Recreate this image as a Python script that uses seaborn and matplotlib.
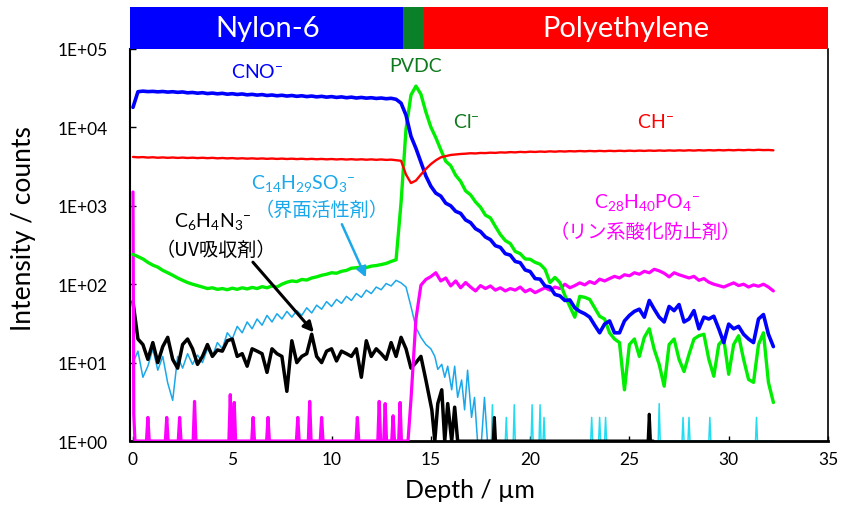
import numpy as np
import matplotlib
matplotlib.use("Agg")
import matplotlib.pyplot as plt
import seaborn as sns
from matplotlib.ticker import FixedLocator, FuncFormatter, NullLocator

# ---------------------------------------------------------------------------
# ToF-SIMS depth profile of a Nylon-6 / PVDC / Polyethylene laminate
# ---------------------------------------------------------------------------

# sputter depth of each sampled cycle, µm (0.25 µm steps)
depth = np.round(np.arange(130) * 0.25, 2)

# CNO- (Nylon-6 marker)
cno = [18000, 28500, 29000, 28600, 28800, 28400, 28700, 28200, 28500, 28000,
       28300, 27600, 27900, 27300, 27700, 27000, 27400, 26800, 27200, 26500,
       26900, 26300, 26700, 26000, 26400, 25800, 26200, 25500, 25900, 25300,
       25700, 25100, 25500, 24900, 25300, 24700, 25100, 24500, 24900, 24300,
       24700, 24100, 24500, 23900, 24300, 23700, 24100, 23600, 23900, 23400,
       23700, 23200, 23500, 22800, 20400, 14300, 7700, 5400, 3600, 2400,
       1780, 1450, 1330, 1080, 1000, 850, 800, 660, 610, 510,
       470, 400, 370, 310, 295, 245, 235, 195, 188, 152,
       145, 118, 116, 95, 92, 74, 71, 62, 63, 50,
       45, 42, 38, 30, 24, 31, 34, 24, 24, 34,
       40, 45, 48, 38, 62, 48, 38, 33, 52, 46,
       55, 33, 36, 46, 27, 38, 36, 39, 27, 18,
       31, 27, 29, 23, 20, 18, 36, 41, 23, 16]

# CH- (polymer backbone)
ch = [4200, 4150, 4180, 4120, 4160, 4100, 4140, 4090, 4130, 4080,
      4120, 4070, 4110, 4060, 4100, 4050, 4090, 4030, 4070, 4020,
      4060, 4000, 4040, 3990, 4030, 3980, 4020, 3970, 4010, 3960,
      4000, 3950, 3990, 3940, 3980, 3930, 3970, 3920, 3960, 3910,
      3950, 3900, 3940, 3890, 3930, 3880, 3920, 3870, 3910, 3860,
      3900, 3850, 3880, 3820, 3750, 2500, 1950, 2100, 2500, 2950,
      3400, 3800, 4150, 4300, 4450, 4520, 4580, 4620, 4680, 4650,
      4720, 4700, 4760, 4730, 4800, 4770, 4840, 4800, 4870, 4830,
      4900, 4860, 4920, 4880, 4950, 4900, 4960, 4920, 4980, 4940,
      5000, 4950, 5010, 4960, 5020, 4970, 5030, 4980, 5040, 4990,
      5050, 5000, 5060, 5010, 5070, 5020, 5080, 5030, 5090, 5040,
      5100, 5050, 5110, 5060, 5120, 5070, 5130, 5080, 5140, 5090,
      5150, 5100, 5160, 5110, 5170, 5120, 5180, 5130, 5150, 5100]

# Cl- (PVDC marker)
cl = [240, 225, 210, 190, 175, 165, 150, 140, 130, 120,
      112, 105, 100, 96, 92, 88, 90, 86, 88, 85,
      89, 86, 90, 87, 91, 88, 93, 90, 95, 92,
      100, 106, 110, 108, 115, 113, 120, 124, 130, 134,
      140, 138, 146, 150, 160, 162, 166, 163, 170, 173,
      178, 184, 195, 205, 1100, 9500, 25900, 33600, 26500, 15700,
      10100, 7400, 5200, 3700, 3250, 2450, 2050, 1550, 1380, 1120,
      960, 760, 700, 545, 430, 360, 330, 262, 245, 210,
      208, 190, 180, 155, 105, 122, 105, 72, 52, 38,
      70, 68, 64, 50, 39, 36, 24, 20, 18, 4.5,
      17, 20, 12, 21, 27, 14.7, 9.5, 5, 17, 20,
      11, 7.7, 12.7, 20, 22, 23, 11, 6.7, 17, 20,
      7.1, 17, 22, 11, 6.1, 5.6, 17, 24, 5.6, 3.1]

# C14H29SO3- (surfactant), 0 - 15 µm on the regular grid
c14 = [10, 14, 6.5, 9, 15, 8, 12, 5.5, 3.3, 12,
       8.5, 13, 9.5, 12.5, 10, 15, 12, 18, 15, 24,
       20, 29, 24, 33, 27, 36, 30, 40, 33, 42,
       36, 45, 38, 46, 40, 50, 43, 54, 48, 60,
       52, 64, 57, 70, 62, 76, 68, 84, 76, 92,
       85, 102, 95, 112, 104, 92, 52, 28, 21, 17,
       15]
c14_tail_depth = [15.2, 15.35, 15.55, 15.7, 15.85, 16.05, 16.2, 16.35, 16.55,
                  16.7, 16.85, 17.05, 17.2, 17.35, 17.55, 17.7, 17.85]
c14_tail_counts = [12, 8.2, 9.5, 6.5, 9, 4.5, 9, 3.6, 6,
                   2.5, 8, 2, 3.6, 1, 1, 3.6, 1]
c14_far_pos = [18.1, 18.8, 19.2, 20.1, 20.5, 20.7, 23.1, 23.5, 23.8,
               26.5, 27.7, 28.0, 29.05, 31.4]
c14_far_height = [2.9, 2.0, 2.9, 2.9, 2.9, 2.0, 2.0, 2.0, 2.0,
                  3.0, 2.0, 2.0, 2.0, 2.0]

# C6H4N3- (UV absorber), 0 - 14.75 µm on the regular grid
c6 = [60, 20, 17, 11, 18, 10, 16, 21, 11, 8.5,
      17, 20, 15, 9.5, 12, 17, 12, 14.5, 14, 19,
      20, 12, 13, 9, 15, 14, 13, 7.5, 15, 13,
      12, 4.3, 19, 10, 12, 13, 23, 12, 10, 14,
      15, 10.5, 14, 13, 12, 15, 6.5, 19, 12, 15,
      13, 11, 18, 12, 21, 15, 8.5, 10, 12, 6]
c6_tail_depth = [15.05, 15.2, 15.35, 15.55, 15.7, 15.85, 16.05, 16.2, 16.35]
c6_tail_counts = [2.5, 1, 3, 4.5, 1, 3, 1, 2.7, 1]
c6_far_pos = [18.2, 26.0]
c6_far_height = [2.0, 2.2]

# C28H40PO4- (phosphorus antioxidant)
c28_surface_depth = [0.0, 0.04]
c28_surface_counts = [1500, 2.2]
c28_spike_pos = [0.75, 1.7, 2.35, 3.1, 4.9, 5.1, 6.05, 6.8, 8.3, 8.9,
                 9.5, 11.3, 12.4, 12.7, 13.1, 13.45]
c28_spike_height = [2.0, 2.0, 2.0, 3.2, 3.9, 3.1, 2.0, 2.0, 2.0, 3.2,
                    2.0, 2.0, 3.2, 3.0, 2.1, 3.1]
# 14.0 - 32.25 µm on the regular grid
c28 = [3.4, 36, 97, 115,
       125, 140, 110, 120, 95, 110, 90, 105, 92, 82,
       96, 88, 95, 84, 90, 82, 88, 84, 92, 80,
       86, 78, 84, 90, 84, 92, 88, 100, 90, 96,
       104, 98, 108, 102, 116, 110, 118, 126, 120, 132,
       128, 140, 134, 146, 140, 155, 148, 138, 124, 140,
       132, 126, 120, 126, 112, 118, 106, 100, 96, 92,
       98, 104, 96, 100, 92, 98, 94, 100, 92, 82]

# layer structure shown in the header band (boundaries in µm)
layers = ["Nylon-6", "PVDC", "Polyethylene"]
layer_edges = [13.6, 14.65]

FLOOR = 1.0  # zero counts sit on the 1E+00 floor of the log axis


def spike_trace(pos, height, start, end, half=0.07):
    """Isolated single-cycle counts on top of the zero-count floor."""
    xs, ys = [start], [FLOOR]
    for p, h in zip(pos, height):
        xs += [p - half, p, p + half]
        ys += [FLOOR, h, FLOOR]
    xs.append(end)
    ys.append(FLOOR)
    return xs, ys


# ---------------------------------------------------------------------------
sns.set_theme(style="white")
plt.rcParams["font.family"] = ["Lato", "Noto Sans CJK JP", "DejaVu Sans"]
plt.rcParams["mathtext.fontset"] = "custom"
plt.rcParams["mathtext.rm"] = "Lato"
plt.rcParams["mathtext.it"] = "Lato:italic"
plt.rcParams["mathtext.bf"] = "Lato:bold"

fig = plt.figure(figsize=(8.43, 5.10), dpi=100)
ax = fig.add_axes([0.1542, 0.1333, 0.8280, 0.7687])
band = fig.add_axes([0.1542, 0.9020, 0.8280, 0.0824], sharex=ax)

XMIN, XMAX = -0.15, 35

BLUE, RED, LIME = "#0000FF", "#FF0000", "#00EE00"
SKY, CYAN, MAGENTA = "#1AA8EA", "#22DDF2", "#FF00FF"
DKGREEN = "#0E7A1E"

# surfactant
sns.lineplot(x=list(depth[:61]) + c14_tail_depth, y=c14 + c14_tail_counts,
             ax=ax, color=SKY, linewidth=1.1, estimator=None, sort=False, zorder=2)
fx, fy = spike_trace(c14_far_pos, c14_far_height, 17.85, 32.3, half=0.05)
sns.lineplot(x=fx, y=fy, ax=ax, color=CYAN, linewidth=1.1,
             estimator=None, sort=False, zorder=2)

# UV absorber
sns.lineplot(x=list(depth[:60]) + c6_tail_depth, y=c6 + c6_tail_counts,
             ax=ax, color="black", linewidth=2.5, estimator=None, sort=False, zorder=3)
bx, by = spike_trace(c6_far_pos, c6_far_height, 16.35, 26.2, half=0.06)
sns.lineplot(x=bx, y=by, ax=ax, color="black", linewidth=2.2,
             estimator=None, sort=False, zorder=3)

# antioxidant
sx, sy = spike_trace(c28_spike_pos, c28_spike_height, 0.1, 13.85)
mx = c28_surface_depth + sx + list(depth[56:])
my = c28_surface_counts + sy + c28
sns.lineplot(x=mx, y=my, ax=ax, color=MAGENTA, linewidth=2.3,
             estimator=None, sort=False, zorder=4)

# Cl-, CNO-, CH-
sns.lineplot(x=depth, y=cl, ax=ax, color=LIME, linewidth=2.4,
             estimator=None, sort=False, zorder=5)
sns.lineplot(x=depth, y=cno, ax=ax, color=BLUE, linewidth=2.6,
             estimator=None, sort=False, zorder=6)
sns.lineplot(x=depth, y=ch, ax=ax, color=RED, linewidth=1.7,
             estimator=None, sort=False, zorder=7)

# axes ----------------------------------------------------------------------
ax.set_yscale("log")
ax.set_xlim(XMIN, XMAX)
ax.set_ylim(1, 1e5)
ax.yaxis.set_major_locator(FixedLocator([1, 10, 100, 1e3, 1e4, 1e5]))
ax.yaxis.set_minor_locator(NullLocator())
ax.yaxis.set_major_formatter(
    FuncFormatter(lambda v, _: "1E+{:02d}".format(int(round(np.log10(v))))))
ax.xaxis.set_major_locator(FixedLocator(np.arange(0, 36, 5)))
ax.xaxis.set_major_formatter(FuncFormatter(lambda v, _: "{:d}".format(int(v))))

ax.tick_params(axis="y", direction="in", length=4, width=1, colors="black",
               labelsize=12.5, pad=16, left=True)
ax.tick_params(axis="x", direction="in", length=3.5, width=1, colors="black",
               labelsize=12.5, pad=7, bottom=True)
for name, lw in [("left", 1.5), ("bottom", 2.0), ("right", 1.2)]:
    ax.spines[name].set_color("black")
    ax.spines[name].set_linewidth(lw)
ax.spines["top"].set_visible(False)

ax.set_xlabel("Depth / µm", fontsize=18, color="black")
ax.set_ylabel("Intensity / counts", fontsize=19, color="black")
ax.xaxis.set_label_coords(0.487, -0.095)
ax.yaxis.set_label_coords(-0.134, 0.545)

# header band ------------------------------------------------------------------
band.axvspan(XMIN, layer_edges[0], color=BLUE, lw=0)
band.axvspan(layer_edges[0], layer_edges[1], color="#0A8028", lw=0)
band.axvspan(layer_edges[1], XMAX, color=RED, lw=0)
band.set_ylim(0, 1)
band.axis("off")
band.text((XMIN + layer_edges[0]) / 2 + 0.05, 0.5, layers[0], color="white",
          fontsize=21, ha="center", va="center")
band.text((layer_edges[1] + XMAX) / 2, 0.5, layers[2], color="white",
          fontsize=21, ha="center", va="center")

# species labels -------------------------------------------------------------
lab = dict(ha="center", va="center", fontsize=14)
jp = dict(ha="center", va="center", fontsize=13.8, family=["Noto Sans CJK JP"])
ax.text(6.25, 52000, r"CNO$^{-}$", color=BLUE, **lab)
ax.text(14.25, 62000, layers[1], color=DKGREEN, **lab)
ax.text(16.8, 12000, r"Cl$^{-}$", color=DKGREEN, **lab)
ax.text(26.3, 12000, r"CH$^{-}$", color=RED, **lab)
ax.text(8.6, 2000, r"C$_{14}$H$_{29}$SO$_{3}$$^{-}$", color=SKY, **lab)
ax.text(9.5, 900, "（界面活性剤）", color=SKY, **jp)
ax.text(4.0, 640, r"C$_{6}$H$_{4}$N$_{3}$$^{-}$", color="black", **lab)
ax.text(4.2, 280, "（UV吸収剤）", color="black", **jp)
ax.text(25.9, 1150, r"C$_{28}$H$_{40}$PO$_{4}$$^{-}$", color=MAGENTA, **lab)
ax.text(25.8, 475, "（リン系酸化防止剤）", color=MAGENTA, **jp)

ax.annotate("", xy=(11.73, 122), xytext=(10.52, 582),
            arrowprops=dict(arrowstyle="-|>", color=SKY, lw=1.8,
                            mutation_scale=15, shrinkA=0, shrinkB=0), zorder=8)
ax.annotate("", xy=(9.11, 24.3), xytext=(6.04, 191),
            arrowprops=dict(arrowstyle="-|>", color="black", lw=2.2,
                            mutation_scale=15, shrinkA=0, shrinkB=0), zorder=8)

fig.savefig("out.png", dpi=100)
